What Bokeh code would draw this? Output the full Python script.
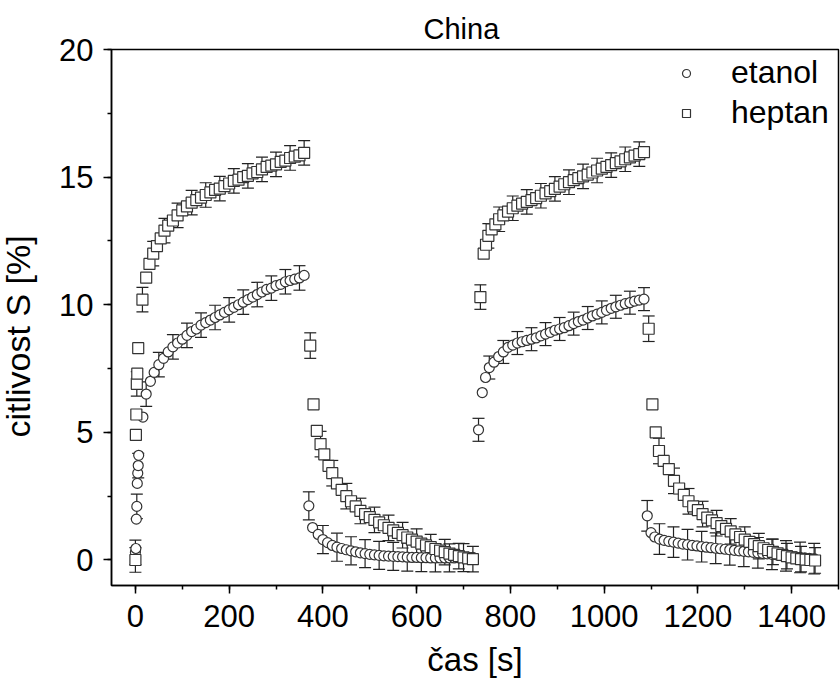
from bokeh.plotting import figure
from bokeh.models import Whisker, ColumnDataSource, SingleIntervalTicker, Range1d, TeeHead, Title
from bokeh.embed import file_html
from bokeh.resources import INLINE

# ---------------- data ----------------
# etanol, exposure 1
t_eta_r1 = [0, 1, 2, 3, 4, 5, 6, 7, 16, 23, 32] + list(range(40, 361, 10))
s_eta_r1 = [0.3, 0.45, 1.6, 2.1, 3.0, 3.4, 3.7, 4.1, 5.6, 6.5, 7.0,
            7.35, 7.65, 7.9, 8.15, 8.35, 8.5, 8.65, 8.8, 8.95, 9.05, 9.2, 9.3, 9.4,
            9.5, 9.6, 9.7, 9.8, 9.9, 10.0, 10.1, 10.2, 10.3, 10.4, 10.5, 10.6,
            10.65, 10.75, 10.8, 10.9, 10.95, 11.0, 11.05, 11.15]
# etanol, recovery 1
t_eta_d1 = [370, 378] + list(range(390, 721, 10))
s_eta_d1 = [2.12, 1.27,
            1.0, 0.8, 0.68, 0.57, 0.5, 0.45, 0.4, 0.36, 0.32, 0.28, 0.25, 0.22,
            0.2, 0.18, 0.16, 0.15, 0.14, 0.13, 0.12, 0.11, 0.1, 0.1, 0.09, 0.09,
            0.08, 0.08, 0.08, 0.08, 0.08, 0.08, 0.09, 0.09, 0.1, 0.1]
# etanol, exposure 2
t_eta_r2 = [732, 740, 747, 755, 765, 775] + list(range(785, 1086, 10))
s_eta_r2 = [5.1, 6.56, 7.15, 7.54, 7.75, 7.97,
            8.15, 8.33, 8.42, 8.5, 8.55, 8.6, 8.65, 8.7, 8.78, 8.85, 8.92, 9.0,
            9.05, 9.1, 9.18, 9.26, 9.34, 9.4, 9.48, 9.56, 9.63, 9.7, 9.78, 9.86,
            9.92, 9.98, 10.04, 10.08, 10.14, 10.18, 10.22]
# etanol, recovery 2
t_eta_d2 = [1092, 1100, 1108] + list(range(1118, 1449, 10))
s_eta_d2 = [1.73, 1.07, 0.9,
            0.82, 0.77, 0.73, 0.7, 0.66, 0.62, 0.6, 0.57, 0.55, 0.52, 0.5,
            0.48, 0.46, 0.44, 0.42, 0.4, 0.38, 0.36, 0.34, 0.32, 0.3, 0.28, 0.26,
            0.24, 0.22, 0.2, 0.18, 0.16, 0.14, 0.12, 0.1, 0.08, 0.06, 0.05]

# heptan, exposure 1
t_hep_r1 = [0, 1, 2, 3, 4, 6, 15, 23, 30, 38, 46, 54, 62, 70] + list(range(80, 361, 10))
s_hep_r1 = [0.0, 4.9, 5.7, 6.9, 7.3, 8.3, 10.2, 11.06, 11.6, 12.0, 12.3, 12.6, 12.9, 13.1,
            13.3, 13.5, 13.7, 13.85, 14.0, 14.1, 14.2, 14.3, 14.4, 14.5, 14.55, 14.65,
            14.75, 14.85, 14.9, 15.0, 15.05, 15.15, 15.2, 15.3, 15.4, 15.45, 15.5, 15.6,
            15.65, 15.75, 15.8, 15.85, 15.95]
# heptan, recovery 1
t_hep_d1 = [373, 380, 387, 395, 403, 412] + list(range(420, 721, 10))
s_hep_d1 = [8.4, 6.1, 5.06, 4.54, 4.14, 3.69,
            3.4, 3.0, 2.75, 2.5, 2.3, 2.1, 1.92, 1.8, 1.68, 1.57, 1.47, 1.36, 1.26,
            1.16, 1.06, 0.97, 0.88, 0.8, 0.72, 0.64, 0.57, 0.5, 0.43, 0.37, 0.31,
            0.25, 0.2, 0.15, 0.1, 0.06, 0.03]
# heptan, exposure 2
t_hep_r2 = [736, 743, 748, 753, 760, 768, 776, 785] + list(range(795, 1086, 10))
s_hep_r2 = [10.3, 12.0, 12.35, 12.7, 12.95, 13.15, 13.35, 13.5,
            13.65, 13.78, 13.88, 13.96, 14.03, 14.1, 14.18, 14.27, 14.36, 14.45,
            14.54, 14.63, 14.72, 14.8, 14.88, 14.96, 15.03, 15.1, 15.18, 15.26,
            15.33, 15.4, 15.47, 15.55, 15.62, 15.7, 15.77, 15.84, 15.9, 15.98]
# heptan, recovery 2
t_hep_d2 = [1095, 1103, 1110, 1117, 1127, 1138, 1149] + list(range(1160, 1451, 10))
s_hep_d2 = [9.06, 6.1, 5.0, 4.27, 3.88, 3.56, 3.1,
            2.8, 2.55, 2.3, 2.1, 1.95, 1.8, 1.66, 1.55, 1.44, 1.33, 1.22, 1.12,
            1.0, 0.9, 0.8, 0.71, 0.62, 0.54, 0.46, 0.39, 0.32, 0.26, 0.2, 0.15,
            0.1, 0.06, 0.03, 0.01, 0.0, -0.02]

# standard deviation of each phase (exposure 1, recovery 1, exposure 2, recovery 2)
err_etanol = [0.48, 0.55, 0.45, 0.6]
err_heptan = [0.48, 0.5, 0.48, 0.5]

x_axis_label = "čas [s]"
y_axis_label = "citlivost S [%]"
title_text = "China"

# ---------------- assembly ----------------
FONT = "Liberation Sans"
EDGE = "#333333"


def series(ts_list, ss_list, errs):
    xs, ys, ex, lo, hi = [], [], [], [], []
    for ts, ss, e in zip(ts_list, ss_list, errs):
        xs += ts
        ys += ss
        for i, (t, s) in enumerate(zip(ts, ss)):
            if i % 3 == 0:
                ex.append(t)
                lo.append(s - e)
                hi.append(s + e)
    return (ColumnDataSource(dict(x=xs, y=ys)),
            ColumnDataSource(dict(x=ex, lower=lo, upper=hi)))


eta_src, eta_err = series([t_eta_r1, t_eta_d1, t_eta_r2, t_eta_d2],
                          [s_eta_r1, s_eta_d1, s_eta_r2, s_eta_d2], err_etanol)
hep_src, hep_err = series([t_hep_r1, t_hep_d1, t_hep_r2, t_hep_d2],
                          [s_hep_r1, s_hep_d1, s_hep_r2, s_hep_d2], err_heptan)

p = figure(width=840, height=688, output_backend="svg", toolbar_location=None,
           x_range=Range1d(-51, 1500), y_range=Range1d(-1, 20),
           min_border_left=111, min_border_right=2, min_border_top=49,
           min_border_bottom=103)

p.background_fill_color = "white"
p.border_fill_color = "white"
p.outline_line_color = "black"
p.outline_line_width = 1.5
p.grid.visible = False

for err in (eta_err, hep_err):
    w = Whisker(base="x", lower="lower", upper="upper", source=err,
                line_color="#222222", line_width=1.2,
                upper_head=TeeHead(size=12, line_color="#222222", line_width=1.2),
                lower_head=TeeHead(size=12, line_color="#222222", line_width=1.2))
    p.add_layout(w)

p.scatter("x", "y", source=eta_src, marker="circle", size=10, fill_color="white",
          line_color=EDGE, line_width=1.2, legend_label="etanol")
p.scatter("x", "y", source=hep_src, marker="square", size=11, fill_color="white",
          line_color=EDGE, line_width=1.2, legend_label="heptan")

# title
p.title.text = title_text
p.title.text_font = FONT
p.title.text_font_size = "29px"
p.title.text_font_style = "normal"
p.title.text_color = "black"
p.title.align = "left"
p.title.offset = 312
p.title.standoff = 9

# axes
p.xaxis.ticker = SingleIntervalTicker(interval=200, num_minor_ticks=2)
p.yaxis.ticker = SingleIntervalTicker(interval=5, num_minor_ticks=2)
p.xaxis.axis_label = x_axis_label
for ax in (p.xaxis[0], p.yaxis[0]):
    ax.axis_line_color = "black"
    ax.axis_line_width = 1.5
    ax.major_tick_line_color = "black"
    ax.minor_tick_line_color = "black"
    ax.major_tick_line_width = 1.5
    ax.minor_tick_line_width = 1.5
    ax.major_tick_out = 8
    ax.major_tick_in = 0
    ax.minor_tick_out = 4
    ax.minor_tick_in = 0
    ax.major_label_text_font = FONT
    ax.major_label_text_font_size = "31px"
    ax.major_label_text_color = "black"
    ax.axis_label_text_font = FONT
    ax.axis_label_text_font_size = "33px"
    ax.axis_label_text_font_style = "normal"
    ax.axis_label_text_color = "black"
p.xaxis.major_label_standoff = 11
p.xaxis.axis_label_standoff = 11
p.yaxis.major_label_standoff = 10

# y axis title, as a side title so it can sit a little below the frame centre
p.add_layout(Title(text=y_axis_label, align="left", offset=148, standoff=15,
                   padding=dict(left=0, right=0, top=0, bottom=12),
                   text_font=FONT, text_font_size="34px", text_font_style="normal",
                   text_color="black"), "left")

# legend
lg = p.legend[0]
lg.location = (565, 454)
lg.margin = 0
lg.padding = 4
lg.spacing = 3
lg.glyph_width = 20
lg.glyph_height = 20
lg.label_standoff = 35
lg.label_text_font = FONT
lg.label_text_font_size = "32px"
lg.label_text_color = "black"
lg.border_line_color = None
lg.background_fill_alpha = 0

open("out.html", "w").write(file_html(p, INLINE))
